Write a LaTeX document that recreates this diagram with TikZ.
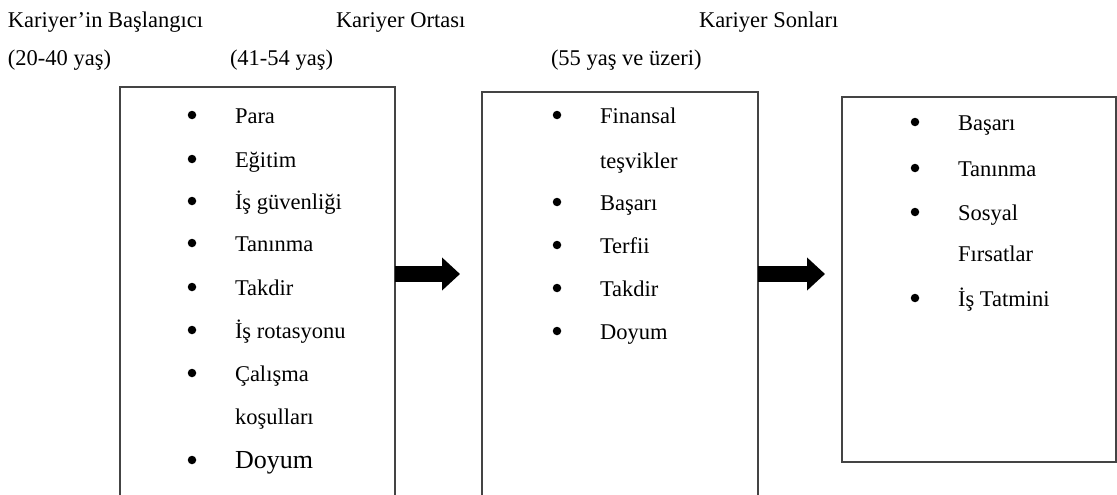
\documentclass[tikz,border=0pt]{standalone}
\usepackage{fontspec}
\setmainfont{Liberation Serif}
\usetikzlibrary{arrows.meta, positioning}
\definecolor{framegray}{RGB}{68,68,68}

\begin{document}
\begin{tikzpicture}[x=1pt, y=-1pt,
  every node/.style={inner sep=0pt, outer sep=0pt, font=\fontsize{22.5}{27}\selectfont},
  panel/.style={draw=framegray, line width=1.2pt, anchor=north west},
  item/.style={anchor=base west},
  dot/.style={circle, fill=black, minimum size=8.5pt},
  fatarrow/.style={-{Triangle[length=18pt, width=32pt]}, line width=16pt}]
  \useasboundingbox (0,0) rectangle (1117,495);
  \clip (0,0) rectangle (1117,495);
  % Headings
  \node[item] (earlyhead) at (8,28) {Kariyer’in Başlangıcı};
  \node[item] (midhead) at (336,28) {Kariyer Ortası};
  \node[item] (latehead) at (699,28) {Kariyer Sonları};
  \node[item] (earlyage) at (8,66) {(20-40 yaş)};
  \node[item] (midage) at (230,66) {(41-54 yaş)};
  \node[item] (lateage) at (551,66) {(55 yaş ve üzeri)};
  % Panels
  \node[panel, minimum width=275, minimum height=430] (early) at (120,87) {};
  \node[panel, minimum width=276, minimum height=430] (mid) at (482,92) {};
  \node[panel, minimum width=274, minimum height=365] (late) at (842,97) {};
  % Early career
  \foreach \txt/\yy [count=\i] in {Para/123, Eğitim/167, İş güvenliği/209,
      Tanınma/251, Takdir/295, İş rotasyonu/338, Çalışma/381, koşulları/424}
    \node[item] (e\i) at (235,\yy) {\txt};
  \node[item, font=\fontsize{26}{30}\selectfont] (e9) at (235,468) {Doyum};
  \foreach \yy [count=\i] in {123,167,209,251,295,338,381,468}
    \node[dot] (eb\i) at (192,\yy-8) {};
  % Mid career
  \foreach \txt/\yy [count=\i] in {Finansal/123, teşvikler/168, Başarı/210,
      Terfii/253, Takdir/296, Doyum/339}
    \node[item] (m\i) at (600,\yy) {\txt};
  \foreach \yy [count=\i] in {123,210,253,296,339}
    \node[dot] (mb\i) at (557,\yy-8) {};
  % Late career
  \foreach \txt/\yy [count=\i] in {Başarı/130, Tanınma/176, Sosyal/220,
      Fırsatlar/261, İş Tatmini/306}
    \node[item] (l\i) at (958,\yy) {\txt};
  \foreach \yy [count=\i] in {130,176,220,306}
    \node[dot] (lb\i) at (915,\yy-8) {};
  % Arrows
  \coordinate (tipone) at (460,274);
  \coordinate (tiptwo) at (825,274);
  \draw[fatarrow] (early.east |- tipone) -- (tipone);
  \draw[fatarrow] (mid.east |- tiptwo) -- (tiptwo);
\end{tikzpicture}
\end{document}
